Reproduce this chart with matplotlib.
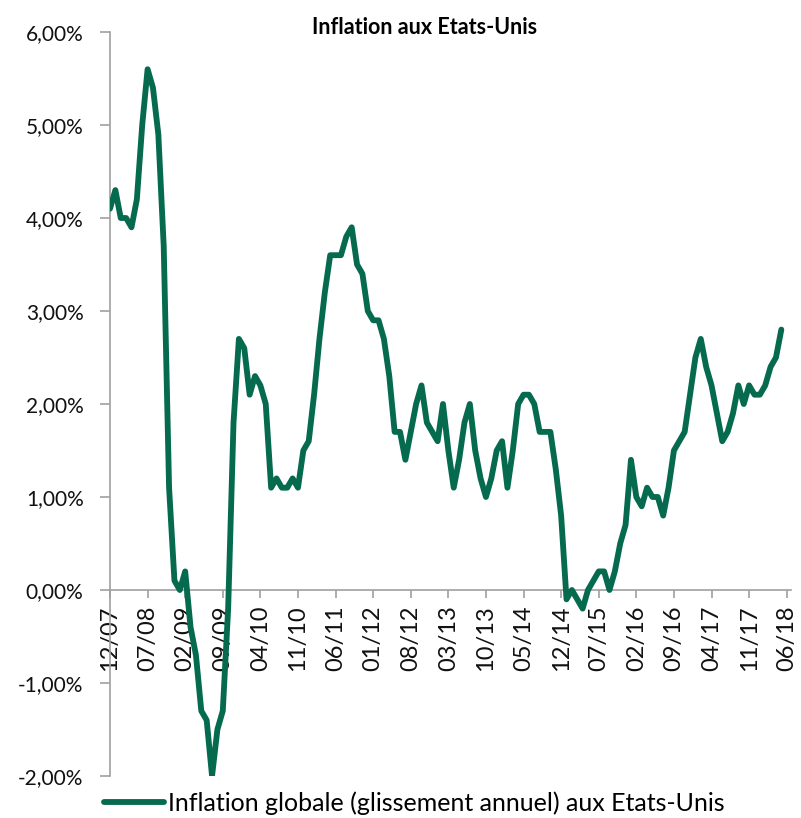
import matplotlib
matplotlib.use("Agg")
import matplotlib.pyplot as plt
from matplotlib.ticker import FixedLocator, FuncFormatter

plt.rcParams['font.family'] = ['Lato', 'DejaVu Sans']

# Monthly US inflation (%), 12/2007 .. 05/2018
inflation = [
    4.1,                                                        # 2007-12
    4.3, 4.0, 4.0, 3.9, 4.2, 5.0, 5.6, 5.4, 4.9, 3.7, 1.1, 0.1,  # 2008
    0.0, 0.2, -0.4, -0.7, -1.3, -1.4, -2.0, -1.5, -1.3, -0.2, 1.8, 2.7,  # 2009
    2.6, 2.1, 2.3, 2.2, 2.0, 1.1, 1.2, 1.1, 1.1, 1.2, 1.1, 1.5,  # 2010
    1.6, 2.1, 2.7, 3.2, 3.6, 3.6, 3.6, 3.8, 3.9, 3.5, 3.4, 3.0,  # 2011
    2.9, 2.9, 2.7, 2.3, 1.7, 1.7, 1.4, 1.7, 2.0, 2.2, 1.8, 1.7,  # 2012
    1.6, 2.0, 1.5, 1.1, 1.4, 1.8, 2.0, 1.5, 1.2, 1.0, 1.2, 1.5,  # 2013
    1.6, 1.1, 1.5, 2.0, 2.1, 2.1, 2.0, 1.7, 1.7, 1.7, 1.3, 0.8,  # 2014
    -0.1, 0.0, -0.1, -0.2, 0.0, 0.1, 0.2, 0.2, 0.0, 0.2, 0.5, 0.7,  # 2015
    1.4, 1.0, 0.9, 1.1, 1.0, 1.0, 0.8, 1.1, 1.5, 1.6, 1.7, 2.1,  # 2016
    2.5, 2.7, 2.4, 2.2, 1.9, 1.6, 1.7, 1.9, 2.2, 2.0, 2.2, 2.1,  # 2017
    2.1, 2.2, 2.4, 2.5, 2.8,                                     # 2018
]
tick_labels = ["12/07", "07/08", "02/09", "09/09", "04/10", "11/10", "06/11",
               "01/12", "08/12", "03/13", "10/13", "05/14", "12/14", "07/15",
               "02/16", "09/16", "04/17", "11/17", "06/18"]
y_ticks = [-2, -1, 0, 1, 2, 3, 4, 5, 6]
title = "Inflation aux Etats-Unis"
series_name = "Inflation globale (glissement annuel) aux Etats-Unis"

W, H = 801, 818
fig = plt.figure(figsize=(W / 100, H / 100), dpi=100)
ax = fig.add_axes([110 / W, 1 - 776 / H, 681 / W, (776 - 32) / H])

color = '#056a4e'
grey = '#a0a0a0'
x = list(range(len(inflation)))
ax.plot(x, inflation, color=color, lw=4.2, solid_joinstyle='round',
        solid_capstyle='round', zorder=3, label=series_name)

ax.set_xlim(0, 126.8)
ax.set_ylim(-2, 6)

for s in ['top', 'right']:
    ax.spines[s].set_visible(False)
ax.spines['bottom'].set_position(('data', 0))
for s in ['left', 'bottom']:
    ax.spines[s].set_color(grey)
    ax.spines[s].set_linewidth(1.2)

ax.yaxis.set_major_locator(FixedLocator(y_ticks))
ax.yaxis.set_major_formatter(FuncFormatter(lambda v, p: f"{v:.2f}%".replace('.', ',')))
ax.tick_params(axis='y', direction='out', length=7, width=1.2, color=grey,
               labelsize=15, pad=12, labelcolor='#111111')

ax.set_xticks([i * 7 for i in range(len(tick_labels))])
ax.set_xticklabels(tick_labels, rotation=90)
ax.tick_params(axis='x', direction='out', length=6, width=1.2, color=grey,
               labelsize=17, pad=5, labelcolor='#111111')

fig.text(425 / W, 1 - 27 / H, title, ha='center', va='center',
         fontsize=15.5, fontweight='bold')

fig.legend(loc='center left', bbox_to_anchor=(94 / W, 1 - 803 / H),
           frameon=False, fontsize=18, handlelength=2.4, handletextpad=0.15,
           borderaxespad=0)

fig.savefig('out.png', dpi=100)
